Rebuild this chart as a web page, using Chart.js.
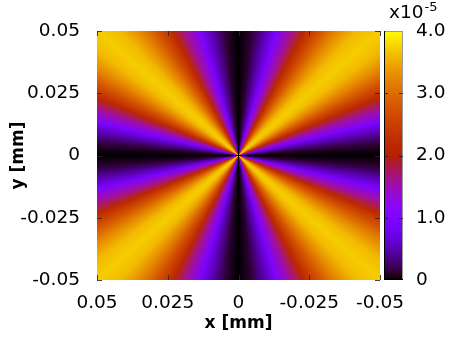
<!DOCTYPE html>
<html>
<head>
<meta charset="utf-8">
<script src="https://cdn.jsdelivr.net/npm/chart.js@4.4.1/dist/chart.umd.min.js"></script>
<style>
  html, body { margin: 0; padding: 0; background: #fff; }
</style>
</head>
<body>
<canvas id="myChart" width="463" height="348"></canvas>
<script>
const xTicks = [0.05, 0.025, 0, -0.025, -0.05]
const yTicks = [0.05, 0.025, 0, -0.025, -0.05]
const cbTicks = [0, 1, 2, 3, 4]

const angles = [0, 5, 10, 15, 20, 25, 30, 35, 40, 45, 50, 55, 60, 65, 70, 75, 80, 85, 90]
const intensity = [0, 0.12, 0.45, 0.95, 1.55, 2.15, 2.75, 3.25, 3.6, 3.72,
                   3.6, 3.25, 2.75, 2.15, 1.55, 0.95, 0.45, 0.12, 0]
const cbMax = 4

// gnuplot default palette (rgbformulae 7,5,15)
function palette(f) {
  f = Math.min(1, Math.max(0, f))
  const r = Math.sqrt(f)
  const g = f * f * f
  const b = Math.max(0, Math.sin(2 * Math.PI * f))
  return `rgb(${Math.round(r * 255)},${Math.round(g * 255)},${Math.round(b * 255)})`
}

const fieldPlugin = {
  id: 'field',
  beforeDatasetsDraw(chart) {
    const {ctx, chartArea: a, scales: {x, y, cb}} = chart
    const cx = x.getPixelForValue(0)
    const cy = y.getPixelForValue(0)

    // one conic gradient, stops placed through the scales
    let stops = []
    for (let q = 0; q < 4; q++) {
      for (let i = 0; i < angles.length; i++) {
        const t = (q * 90 + angles[i]) * Math.PI / 180
        const v = intensity[q % 2 ? angles.length - 1 - i : i]
        const px = x.getPixelForValue(Math.cos(t) * 0.01)
        const py = y.getPixelForValue(Math.sin(t) * 0.01)
        let phi = Math.atan2(py - cy, px - cx)
        if (phi < 0) phi += 2 * Math.PI
        stops.push([phi / (2 * Math.PI), palette(v / cbMax)])
      }
    }
    stops.sort((p, r) => p[0] - r[0])
    const grad = ctx.createConicGradient(0, cx, cy)
    stops.forEach(s => grad.addColorStop(Math.min(1, s[0]), s[1]))
    grad.addColorStop(1, stops[0][1])

    ctx.save()
    ctx.fillStyle = grad
    ctx.fillRect(a.left, a.top, a.right - a.left, a.bottom - a.top)

    // inward tick marks
    ctx.strokeStyle = 'rgba(40,40,40,0.85)'
    ctx.lineWidth = 1
    ctx.beginPath()
    xTicks.forEach(v => {
      const px = Math.round(x.getPixelForValue(v)) + 0.5
      ctx.moveTo(px, a.bottom); ctx.lineTo(px, a.bottom - 5)
      ctx.moveTo(px, a.top); ctx.lineTo(px, a.top + 5)
    })
    yTicks.forEach(v => {
      const py = Math.round(y.getPixelForValue(v)) + 0.5
      ctx.moveTo(a.left, py); ctx.lineTo(a.left + 5, py)
      ctx.moveTo(a.right, py); ctx.lineTo(a.right - 5, py)
    })
    ctx.stroke()

    // colour box
    const bx0 = a.right + 4
    const bx1 = a.right + 23
    const by0 = cb.getPixelForValue(cbMax)
    const by1 = cb.getPixelForValue(0)
    const lg = ctx.createLinearGradient(0, by1, 0, by0)
    for (let i = 0; i <= 64; i++) lg.addColorStop(i / 64, palette(i / 64))
    ctx.fillStyle = lg
    ctx.fillRect(bx0, by0, bx1 - bx0, by1 - by0)
    ctx.strokeStyle = '#999'
    ctx.strokeRect(bx0 + 0.5, by0 + 0.5, bx1 - bx0 - 1, by1 - by0 - 1)
    ctx.strokeStyle = '#000'
    ctx.beginPath()
    ctx.moveTo(bx0 + 0.5, by0); ctx.lineTo(bx0 + 0.5, by1)
    ctx.moveTo(bx0, by1 - 0.5); ctx.lineTo(bx1, by1 - 0.5)
    ctx.stroke()
    ctx.strokeStyle = 'rgba(30,30,30,0.8)'
    ctx.beginPath()
    cbTicks.slice(1, -1).forEach(v => {
      const py = Math.round(cb.getPixelForValue(v)) + 0.5
      ctx.moveTo(bx0, py); ctx.lineTo(bx0 + 4, py)
      ctx.moveTo(bx1, py); ctx.lineTo(bx1 - 4, py)
    })
    ctx.stroke()

    // exponent label
    ctx.fillStyle = '#000'
    ctx.textBaseline = 'alphabetic'
    ctx.textAlign = 'left'
    ctx.font = '18.5px "DejaVu Sans"'
    ctx.fillText('x10', bx0 + 5, 18)
    const w = ctx.measureText('x10').width
    ctx.font = '13px "DejaVu Sans"'
    ctx.fillText('-5', bx0 + 6 + w, 11)
    ctx.restore()
  }
}

Chart.defaults.font.family = 'DejaVu Sans'
Chart.defaults.color = '#000'

const tickFont = {size: 18.5}
const titleFont = {size: 17, weight: 'bold'}

// fixed axis sizes, no extra label padding
function fixWidth(w) {
  return s => { s.width = w; s.paddingTop = 0; s.paddingBottom = 0 }
}

const ctx = document.getElementById('myChart').getContext('2d')
const myChart = new Chart(ctx, {
  type: 'scatter',
  data: {
    datasets: [{data: [], showLine: false}]
  },
  options: {
    devicePixelRatio: 1,
    responsive: false,
    animation: false,
    layout: {padding: {top: 31, left: 0, right: 0, bottom: 0}},
    plugins: {legend: {display: false}, tooltip: {enabled: false}},
    scales: {
      x: {
        type: 'linear', position: 'bottom', min: -0.05, max: 0.05, reverse: true,
        grid: {display: false, drawTicks: false}, border: {display: false},
        afterBuildTicks: s => { s.ticks = xTicks.map(v => ({value: v})) },
        afterFit: s => { s.height = 68; s.paddingLeft = 0; s.paddingRight = 0 },
        ticks: {font: tickFont, padding: 12, maxRotation: 0, callback: v => String(v)},
        title: {display: true, text: 'x [mm]', font: titleFont, padding: {top: 0, bottom: 14}}
      },
      y: {
        type: 'linear', position: 'left', min: -0.05, max: 0.05,
        grid: {display: false, drawTicks: false}, border: {display: false},
        afterBuildTicks: s => { s.ticks = yTicks.map(v => ({value: v})) },
        afterFit: fixWidth(97),
        ticks: {font: tickFont, padding: 17, callback: v => String(v)},
        title: {display: true, text: 'y [mm]', font: titleFont, padding: {top: 8, bottom: 0}}
      },
      cb: {
        type: 'linear', axis: 'y', position: 'right', min: 0, max: cbMax,
        grid: {display: false, drawTicks: false}, border: {display: false},
        afterBuildTicks: s => { s.ticks = cbTicks.map(v => ({value: v})) },
        afterFit: fixWidth(83),
        ticks: {font: tickFont, padding: 36, callback: v => v === 0 ? '0' : v.toFixed(1)}
      }
    }
  },
  plugins: [fieldPlugin]
})
</script>
</body>
</html>
